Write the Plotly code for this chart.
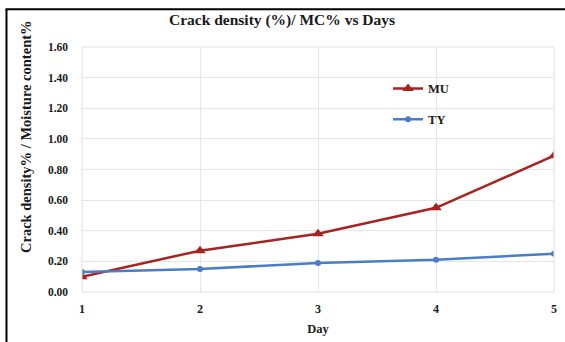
import plotly.graph_objects as go

days = [1, 2, 3, 4, 5]
mu = [0.10, 0.27, 0.38, 0.55, 0.89]
ty = [0.13, 0.15, 0.19, 0.21, 0.25]
y_ticks = [0.0, 0.2, 0.4, 0.6, 0.8, 1.0, 1.2, 1.4, 1.6]
y_labels = [f"{v:.2f}" for v in y_ticks]

W, H = 565, 342
L, R, T, B = 82, 8, 47, 49
pw, ph = W - L - R, H - T - B

def px(x):
    return (x - L) / pw

def py(y):
    return (H - B - y) / ph

font = "Liberation Serif"

fig = go.Figure()
fig.add_trace(go.Scatter(
    x=days, y=mu, name="<b>MU</b>", mode="lines+markers",
    line=dict(color="#A8231E", width=2.5),
    marker=dict(symbol="triangle-up", size=10, color="#A8231E"),
    legend="legend",
))
fig.add_trace(go.Scatter(
    x=days, y=ty, name="<b>TY</b>", mode="lines+markers",
    line=dict(color="#4A7DC9", width=2.5),
    marker=dict(symbol="circle", size=6, color="#4A7DC9"),
    legend="legend2",
))

fig.update_layout(
    width=W, height=H,
    margin=dict(l=L, r=R, t=T, b=B),
    paper_bgcolor="white", plot_bgcolor="white",
    font=dict(family=font, color="#1a1a1a", size=11),
    title=dict(text="<b>Crack density (%)/ MC% vs Days</b>", x=282 / W, xanchor="center",
               xref="container", y=1 - 20 / H, yanchor="middle",
               font=dict(family=font, size=15.5, color="#1a1a1a")),
    xaxis=dict(range=[1, 5], tickvals=days, ticktext=[f"<b>{d}</b>" for d in days],
               showgrid=True, gridcolor="#e6e6e6", gridwidth=1, zeroline=False,
               showline=False, ticks="", ticklabelstandoff=8,
               tickfont=dict(family=font, size=12),
               title=dict(text="<b>Day</b>", font=dict(family=font, size=12.5), standoff=9)),
    yaxis=dict(range=[0, 1.6], tickvals=y_ticks, ticktext=[f"<b>{t}</b>" for t in y_labels],
               showgrid=True, gridcolor="#e6e6e6", gridwidth=1, zeroline=False,
               showline=False, ticks="", ticklabelstandoff=13,
               tickfont=dict(family=font, size=11.5)),
    legend=dict(x=px(390), y=py(89), xanchor="left", yanchor="middle",
                bgcolor="rgba(0,0,0,0)", itemwidth=30,
                font=dict(family=font, size=12.5, color="#1a1a1a")),
    legend2=dict(x=px(390), y=py(120), xanchor="left", yanchor="middle",
                 bgcolor="rgba(0,0,0,0)", itemwidth=30,
                 font=dict(family=font, size=12.5, color="#1a1a1a")),
    showlegend=True,
)

fig.add_annotation(
    text="<b>Crack density% / Moisture content%</b>",
    x=px(25), y=py(137), xref="paper", yref="paper",
    textangle=-90, showarrow=False, xanchor="center", yanchor="middle",
    font=dict(family=font, size=14.5, color="#1a1a1a"),
)

# plot area frame
fig.add_shape(type="rect", xref="paper", yref="paper", x0=0, x1=1, y0=0, y1=1,
              line=dict(color="#e0e0e0", width=1))
# outer black frame (left and top)
fig.add_shape(type="line", xref="paper", yref="paper",
              x0=px(6), x1=px(6), y0=py(9), y1=py(345), line=dict(color="black", width=2))
fig.add_shape(type="line", xref="paper", yref="paper",
              x0=px(5), x1=px(570), y0=py(9), y1=py(9), line=dict(color="black", width=2))

fig.write_html("out.html")
